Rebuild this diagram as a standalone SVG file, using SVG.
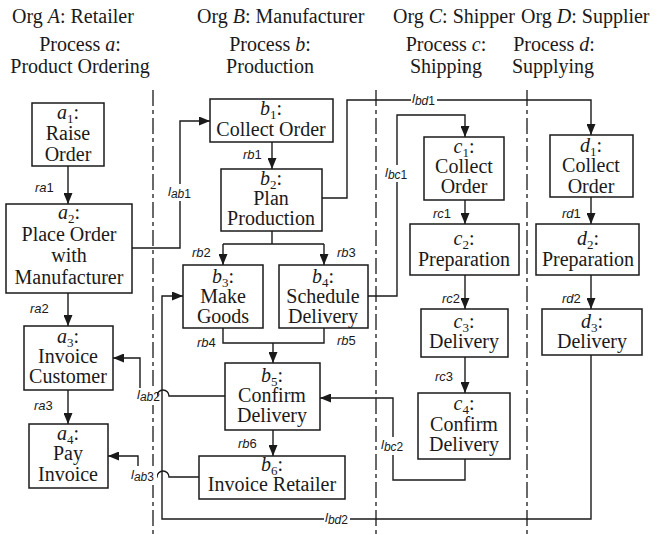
<svg xmlns="http://www.w3.org/2000/svg" width="661" height="535" viewBox="0 0 661 535">
<style>
.hd{font-family:"Liberation Serif","Times New Roman",serif;font-size:20px;fill:#1a1a1a}
.nt{font-family:"Liberation Serif","Times New Roman",serif;font-size:20px;fill:#1a1a1a;text-anchor:middle}
.it{font-style:italic}
.sb{font-size:13px}
.box{fill:#fff;stroke:#1a1a1a;stroke-width:1.5}
.ln{fill:none;stroke:#1a1a1a;stroke-width:1.4}
.arr{marker-end:url(#ah)}
.lab{font-family:"Liberation Sans",Arial,sans-serif;font-size:13px;font-style:italic;fill:#1a1a1a}
.lab .n{font-style:normal}
.bg{fill:#fff}
.sep{fill:none;stroke:#1a1a1a;stroke-width:1.3;stroke-dasharray:16,4,4,4}
</style>
<defs>
<marker id="ah" markerUnits="userSpaceOnUse" markerWidth="11" markerHeight="9" refX="11" refY="4.5" orient="auto">
<path d="M0,0 L11,4.5 L0,9 z" fill="#1a1a1a"/>
</marker>
</defs>

<g id="headers">
<text class="hd" x="12" y="23">Org <tspan class="it">A</tspan>: Retailer</text>
<text class="hd" x="197" y="23">Org <tspan class="it">B</tspan>: Manufacturer</text>
<text class="hd" x="393" y="23">Org <tspan class="it">C</tspan>: Shipper</text>
<text class="hd" x="521" y="23">Org <tspan class="it">D</tspan>: Supplier</text>
<text class="hd" x="80" y="51" text-anchor="middle">Process <tspan class="it">a</tspan>:</text>
<text class="hd" x="80" y="73" text-anchor="middle">Product Ordering</text>
<text class="hd" x="270" y="51" text-anchor="middle">Process <tspan class="it">b</tspan>:</text>
<text class="hd" x="270" y="73" text-anchor="middle">Production</text>
<text class="hd" x="446" y="51" text-anchor="middle">Process <tspan class="it">c</tspan>:</text>
<text class="hd" x="446" y="73" text-anchor="middle">Shipping</text>
<text class="hd" x="554" y="51" text-anchor="middle">Process <tspan class="it">d</tspan>:</text>
<text class="hd" x="553" y="73" text-anchor="middle">Supplying</text>
</g>

<g id="separators">
<line class="sep" x1="153" y1="90" x2="153" y2="535"/>
<line class="sep" x1="376" y1="90" x2="376" y2="535"/>
<line class="sep" x1="527" y1="90" x2="527" y2="535"/>
</g>

<g id="connectors">
<path class="ln arr" d="M68,166 V204"/>
<path class="ln arr" d="M68,293 V326"/>
<path class="ln arr" d="M68,390 V424"/>
<path class="ln arr" d="M272,142 V169"/>
<path class="ln" d="M272,231 V244 M223,244 H324"/>
<path class="ln arr" d="M223,244 V265"/>
<path class="ln arr" d="M324,244 V265"/>
<path class="ln" d="M223,328 V343 H324 V328"/>
<path class="ln arr" d="M273,343 V363"/>
<path class="ln arr" d="M273,430 V456"/>
<path class="ln arr" d="M465,200 V224"/>
<path class="ln arr" d="M465,275 V309"/>
<path class="ln arr" d="M465,357 V393"/>
<path class="ln arr" d="M591,197 V224"/>
<path class="ln arr" d="M591,275 V309"/>
<path class="ln arr" d="M132,248 H180 V121 H210"/>
<path class="ln arr" d="M322,198 H347 V100 H591 V135"/>
<path class="ln arr" d="M368,296 H397 V115 H465 V137"/>
<path class="ln arr" d="M465,459 V480 H393 V398 H320"/>
<path class="ln arr" d="M591,355 V519 H162 V296 H183"/>
<path class="ln arr" d="M225,396 H169 A6,6 0 0 0 157,396 H140 V358 H113"/>
<path class="ln arr" d="M199,477 H169 A6,6 0 0 0 157,477 H138 V456 H108"/>
<g id="conn-labels">
<text class="lab" x="35" y="192">ra<tspan class="n">1</tspan></text>
<text class="lab" x="30" y="313">ra<tspan class="n">2</tspan></text>
<text class="lab" x="34" y="410">ra<tspan class="n">3</tspan></text>
<text class="lab" x="243" y="159">rb<tspan class="n">1</tspan></text>
<text class="lab" x="192" y="257">rb<tspan class="n">2</tspan></text>
<text class="lab" x="337" y="257">rb<tspan class="n">3</tspan></text>
<text class="lab" x="197" y="347">rb<tspan class="n">4</tspan></text>
<text class="lab" x="337" y="345">rb<tspan class="n">5</tspan></text>
<text class="lab" x="238" y="448">rb<tspan class="n">6</tspan></text>
<text class="lab" x="433" y="218">rc<tspan class="n">1</tspan></text>
<text class="lab" x="442" y="303">rc<tspan class="n">2</tspan></text>
<text class="lab" x="435" y="381">rc<tspan class="n">3</tspan></text>
<text class="lab" x="562" y="218">rd<tspan class="n">1</tspan></text>
<text class="lab" x="562" y="303">rd<tspan class="n">2</tspan></text>
<rect class="bg" x="168" y="184" width="25" height="17"/>
<text class="lab" x="168" y="196">l<tspan font-size="12" dy="2">ab<tspan class="n">1</tspan></tspan></text>
<rect class="bg" x="385" y="165" width="25" height="17"/>
<text class="lab" x="385" y="177">l<tspan font-size="12" dy="2">bc<tspan class="n">1</tspan></tspan></text>
<rect class="bg" x="411" y="93" width="26" height="14"/>
<text class="lab" x="412" y="103">l<tspan font-size="12" dy="2">bd<tspan class="n">1</tspan></tspan></text>
<rect class="bg" x="380" y="437" width="26" height="18"/>
<text class="lab" x="381" y="449">l<tspan font-size="12" dy="2">bc<tspan class="n">2</tspan></tspan></text>
<rect class="bg" x="324" y="512" width="26" height="16"/>
<text class="lab" x="325" y="522">l<tspan font-size="12" dy="2">bd<tspan class="n">2</tspan></tspan></text>
<rect class="bg" x="136" y="388" width="21" height="17"/>
<text class="lab" x="137" y="399">l<tspan font-size="12" dy="2">ab<tspan class="n">2</tspan></tspan></text>
<rect class="bg" x="130" y="466" width="27" height="19"/>
<text class="lab" x="131" y="479">l<tspan font-size="12" dy="2">ab<tspan class="n">3</tspan></tspan></text>
</g>
</g>

<g id="a1"><rect class="box" x="32" y="103" width="72" height="63"/>
<text class="nt" x="68" y="119"><tspan class="it">a</tspan><tspan class="sb" dy="4">1</tspan><tspan dy="-4">:</tspan></text>
<text class="nt" x="68" y="140">Raise</text><text class="nt" x="68" y="161">Order</text></g>
<g id="a2"><rect class="box" x="6" y="204" width="126" height="89"/>
<text class="nt" x="69" y="219"><tspan class="it">a</tspan><tspan class="sb" dy="4">2</tspan><tspan dy="-4">:</tspan></text>
<text class="nt" x="69" y="241">Place Order</text><text class="nt" x="69" y="262">with</text><text class="nt" x="69" y="284">Manufacturer</text></g>
<g id="a3"><rect class="box" x="24" y="326" width="89" height="64"/>
<text class="nt" x="68" y="343"><tspan class="it">a</tspan><tspan class="sb" dy="4">3</tspan><tspan dy="-4">:</tspan></text>
<text class="nt" x="68" y="363">Invoice</text><text class="nt" x="68" y="383">Customer</text></g>
<g id="a4"><rect class="box" x="29" y="424" width="79" height="64"/>
<text class="nt" x="68" y="440"><tspan class="it">a</tspan><tspan class="sb" dy="4">4</tspan><tspan dy="-4">:</tspan></text>
<text class="nt" x="68" y="460">Pay</text><text class="nt" x="68" y="481">Invoice</text></g>

<g id="b1"><rect class="box" x="210" y="99" width="123" height="43"/>
<text class="nt" x="271" y="115"><tspan class="it">b</tspan><tspan class="sb" dy="4">1</tspan><tspan dy="-4">:</tspan></text>
<text class="nt" x="271" y="136">Collect Order</text></g>
<g id="b2"><rect class="box" x="221" y="169" width="101" height="62"/>
<text class="nt" x="271" y="185"><tspan class="it">b</tspan><tspan class="sb" dy="4">2</tspan><tspan dy="-4">:</tspan></text>
<text class="nt" x="271" y="205">Plan</text><text class="nt" x="271" y="225">Production</text></g>
<g id="b3"><rect class="box" x="183" y="265" width="80" height="63"/>
<text class="nt" x="223" y="283"><tspan class="it">b</tspan><tspan class="sb" dy="4">3</tspan><tspan dy="-4">:</tspan></text>
<text class="nt" x="223" y="303">Make</text><text class="nt" x="223" y="323">Goods</text></g>
<g id="b4"><rect class="box" x="279" y="265" width="89" height="63"/>
<text class="nt" x="323" y="283"><tspan class="it">b</tspan><tspan class="sb" dy="4">4</tspan><tspan dy="-4">:</tspan></text>
<text class="nt" x="323" y="303">Schedule</text><text class="nt" x="323" y="323">Delivery</text></g>
<g id="b5"><rect class="box" x="225" y="363" width="95" height="67"/>
<text class="nt" x="272" y="382"><tspan class="it">b</tspan><tspan class="sb" dy="4">5</tspan><tspan dy="-4">:</tspan></text>
<text class="nt" x="272" y="402">Confirm</text><text class="nt" x="272" y="422">Delivery</text></g>
<g id="b6"><rect class="box" x="199" y="456" width="146" height="43"/>
<text class="nt" x="272" y="471"><tspan class="it">b</tspan><tspan class="sb" dy="4">6</tspan><tspan dy="-4">:</tspan></text>
<text class="nt" x="272" y="491">Invoice Retailer</text></g>

<g id="c1"><rect class="box" x="424" y="137" width="80" height="63"/>
<text class="nt" x="464" y="153"><tspan class="it">c</tspan><tspan class="sb" dy="4">1</tspan><tspan dy="-4">:</tspan></text>
<text class="nt" x="464" y="173">Collect</text><text class="nt" x="464" y="193">Order</text></g>
<g id="c2"><rect class="box" x="410" y="224" width="109" height="51"/>
<text class="nt" x="464" y="245"><tspan class="it">c</tspan><tspan class="sb" dy="4">2</tspan><tspan dy="-4">:</tspan></text>
<text class="nt" x="464" y="266">Preparation</text></g>
<g id="c3"><rect class="box" x="421" y="309" width="87" height="48"/>
<text class="nt" x="464" y="328"><tspan class="it">c</tspan><tspan class="sb" dy="4">3</tspan><tspan dy="-4">:</tspan></text>
<text class="nt" x="464" y="348">Delivery</text></g>
<g id="c4"><rect class="box" x="418" y="393" width="92" height="66"/>
<text class="nt" x="464" y="410"><tspan class="it">c</tspan><tspan class="sb" dy="4">4</tspan><tspan dy="-4">:</tspan></text>
<text class="nt" x="464" y="431">Confirm</text><text class="nt" x="464" y="451">Delivery</text></g>

<g id="d1"><rect class="box" x="550" y="135" width="83" height="62"/>
<text class="nt" x="591" y="152"><tspan class="it">d</tspan><tspan class="sb" dy="4">1</tspan><tspan dy="-4">:</tspan></text>
<text class="nt" x="591" y="172">Collect</text><text class="nt" x="591" y="193">Order</text></g>
<g id="d2"><rect class="box" x="536" y="224" width="103" height="51"/>
<text class="nt" x="588" y="245"><tspan class="it">d</tspan><tspan class="sb" dy="4">2</tspan><tspan dy="-4">:</tspan></text>
<text class="nt" x="588" y="266">Preparation</text></g>
<g id="d3"><rect class="box" x="542" y="309" width="100" height="46"/>
<text class="nt" x="592" y="328"><tspan class="it">d</tspan><tspan class="sb" dy="4">3</tspan><tspan dy="-4">:</tspan></text>
<text class="nt" x="592" y="348">Delivery</text></g>
</svg>
